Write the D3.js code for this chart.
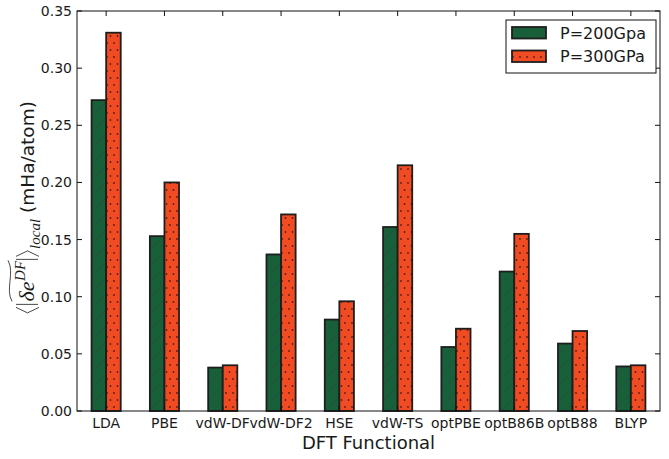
<!DOCTYPE html>
<html>
<head>
<meta charset="utf-8">
<script src="https://cdn.jsdelivr.net/npm/d3@7"></script>
<style>
  html, body { margin: 0; padding: 0; background: #fff; }
  svg { display: block; }
  text { fill: #1a1a1a; }
</style>
</head>
<body>
<svg id="chart" width="669" height="459" font-family="DejaVu Sans, sans-serif"></svg>
<script>
// Mean local DFT error per functional at two pressures
const functionals = ["LDA", "PBE", "vdW-DF", "vdW-DF2", "HSE", "vdW-TS", "optPBE", "optB86B", "optB88", "BLYP"];
const p200 = [0.272, 0.153, 0.038, 0.137, 0.080, 0.161, 0.056, 0.122, 0.059, 0.039];
const p300 = [0.331, 0.200, 0.040, 0.172, 0.096, 0.215, 0.072, 0.155, 0.070, 0.040];
const seriesNames = ["P=200Gpa", "P=300GPa"];
const yTicks = [0.00, 0.05, 0.10, 0.15, 0.20, 0.25, 0.30, 0.35];

const GREEN = "#17603a", ORANGE = "#f14b24", EDGE = "#1e1e1e";
const barW = 0.25;

const svg = d3.select("#chart");
const L = 77, R = 660, T = 11, B = 411;

const x = d3.scaleLinear().domain([-0.25, 9.75]).range([L, R]);
const y = d3.scaleLinear().domain([0, 0.35]).range([B, T]);

// hatch patterns: "/" for the first series, dots for the second
const defs = svg.append("defs");
const diag = defs.append("pattern").attr("id", "hatchDiag")
  .attr("patternUnits", "userSpaceOnUse").attr("width", 16).attr("height", 16);
diag.append("rect").attr("width", 16).attr("height", 16).attr("fill", GREEN);
diag.append("path").attr("d", "M-1,17 L17,-1 M-8,8 L8,-8 M8,24 L24,8")
  .attr("stroke", "#2e4a3a").attr("stroke-width", 0.7).attr("fill", "none");

const dots = defs.append("pattern").attr("id", "hatchDots")
  .attr("patternUnits", "userSpaceOnUse").attr("width", 7).attr("height", 14)
  .attr("x", 2).attr("y", 1);
dots.append("rect").attr("width", 7).attr("height", 14).attr("fill", ORANGE);
[[0, 0], [7, 0], [3.5, 7], [0, 14], [7, 14]].forEach(([cx, cy]) =>
  dots.append("circle").attr("cx", cx).attr("cy", cy).attr("r", 0.9).attr("fill", "#5a1e10"));

// bars
const series = [
  { vals: p200, off: 0, fill: "url(#hatchDiag)" },
  { vals: p300, off: barW, fill: "url(#hatchDots)" }
];
series.forEach(s => {
  svg.append("g").selectAll("rect").data(s.vals).join("rect")
    .attr("x", (d, i) => x(i + s.off))
    .attr("y", d => y(d))
    .attr("width", x(barW) - x(0))
    .attr("height", d => y(0) - y(d))
    .attr("fill", s.fill)
    .attr("stroke", EDGE)
    .attr("stroke-width", 1.8);
});

// frame
svg.append("rect").attr("x", L).attr("y", T).attr("width", R - L).attr("height", B - T)
  .attr("fill", "none").attr("stroke", "#111").attr("stroke-width", 1);

// ticks pointing inward on all four sides
const tickLen = 5;
const tickPos = functionals.map((d, i) => i + barW);
const tg = svg.append("g").attr("stroke", "#111").attr("stroke-width", 1);
tickPos.forEach(t => {
  tg.append("line").attr("x1", x(t)).attr("x2", x(t)).attr("y1", T).attr("y2", T + tickLen);
  tg.append("line").attr("x1", x(t)).attr("x2", x(t)).attr("y1", B).attr("y2", B - tickLen);
});
yTicks.forEach(t => {
  tg.append("line").attr("x1", L).attr("x2", L + tickLen).attr("y1", y(t)).attr("y2", y(t));
  tg.append("line").attr("x1", R).attr("x2", R - tickLen).attr("y1", y(t)).attr("y2", y(t));
});

// tick labels
svg.append("g").selectAll("text").data(yTicks).join("text")
  .attr("x", L - 5).attr("y", d => y(d)).attr("dy", "0.36em")
  .attr("text-anchor", "end").attr("font-size", 14)
  .text(d => d.toFixed(2));

svg.append("g").selectAll("text").data(functionals).join("text")
  .attr("x", (d, i) => x(i + barW)).attr("y", B + 17)
  .attr("text-anchor", "middle").attr("font-size", 14)
  .text(d => d);

// axis titles
svg.append("text").attr("x", x(4.75)).attr("y", 449)
  .attr("text-anchor", "middle").attr("font-size", 18)
  .text("DFT Functional");

// y title: ⟨|δe^DF (wide tilde)|⟩_local (mHa/atom)
const yl = svg.append("g");
const mathFont = "Liberation Serif";
let cx = 0;
const fs = 22;
function piece(str, opts) {
  const t = yl.append("text").attr("x", cx).attr("y", opts.dy || 0)
    .attr("font-size", opts.size || fs)
    .style("font-family", opts.family || mathFont)
    .style("font-style", opts.italic ? "italic" : "normal")
    .style("white-space", "pre")
    .text(str);
  const w = t.node().getComputedTextLength();
  cx += w + (opts.gap || 0);
  return t;
}
function bracket(open) {
  const w = 5.5, top = -18, bot = 5;
  const p = open
    ? `M${cx + w},${top} L${cx},${(top + bot) / 2} L${cx + w},${bot}`
    : `M${cx},${top} L${cx + w},${(top + bot) / 2} L${cx},${bot}`;
  yl.append("path").attr("d", p).attr("fill", "none").attr("stroke", "#1a1a1a").attr("stroke-width", 0.8);
  cx += w + 2;
}
function bar() {
  yl.append("path").attr("d", `M${cx + 1},-18 L${cx + 1},4`).attr("stroke", "#1a1a1a").attr("stroke-width", 0.8);
  cx += 4;
}
bracket(true);
bar();
const tx0 = cx;
piece("δe", { italic: true, gap: 0.5 });
piece("DF", { italic: true, size: 15, dy: -9, gap: 0.5 });
const tx1 = cx;
yl.append("path")
  .attr("d", `M${tx0},-22 C${tx0 + (tx1 - tx0) * 0.3},-29 ${tx0 + (tx1 - tx0) * 0.7},-19 ${tx1},-26`)
  .attr("fill", "none").attr("stroke", "#1a1a1a").attr("stroke-width", 0.8);
bar();
bracket(false);
piece("local", { italic: true, size: 15, dy: 6, gap: 0 });
piece(" (mHa/atom)", { family: "DejaVu Sans", size: 18.5 });
const total = cx;
yl.attr("transform", `translate(34, ${207 + total / 2}) rotate(-90)`);

// legend
const lg = svg.append("g");
lg.append("rect").attr("x", 506).attr("y", 20).attr("width", 150).attr("height", 53)
  .attr("fill", "#fff").attr("stroke", "#111").attr("stroke-width", 1);
const legFills = ["url(#hatchDiag)", "url(#hatchDots)"];
seriesNames.forEach((name, i) => {
  const yy = 27 + i * 23.5;
  lg.append("rect").attr("x", 512).attr("y", yy).attr("width", 34).attr("height", 11.5)
    .attr("fill", legFills[i]).attr("stroke", EDGE).attr("stroke-width", 1.8);
  lg.append("text").attr("x", 560).attr("y", yy + 5.75).attr("dy", "0.36em")
    .attr("font-size", 16).text(name);
});
</script>
</body>
</html>
